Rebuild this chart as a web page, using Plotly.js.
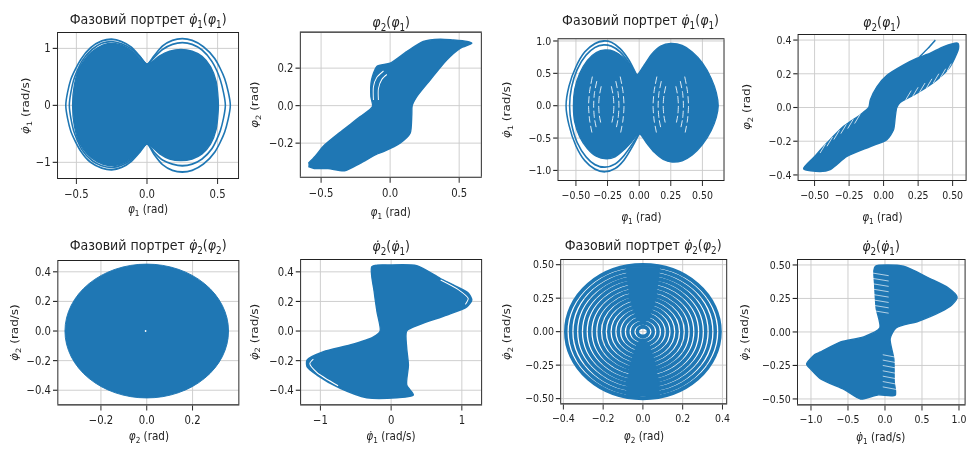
<!DOCTYPE html>
<html>
<head>
<meta charset="utf-8">
<script src="https://cdn.plot.ly/plotly-3.0.1.min.js"></script>
<style>
  html, body { margin: 0; padding: 0; background: #fff; overflow: hidden; }
  #wrap { width: 968px; height: 453px; overflow: hidden; filter: blur(0.35px); }
  #fig { width: 1113px; height: 453px; transform: scaleX(0.87); transform-origin: 0 0; }
</style>
</head>
<body>
<div id="wrap"><div id="fig"></div></div>
<script>
// ---------- phase-portrait outlines (rad, rad/s) ----------
// panel 1: dphi1(phi1), first run
const p1FillX = [0.0,-0.04,-0.09,-0.15,-0.22,-0.28,-0.35,-0.42,-0.48,-0.515,-0.527,-0.515,-0.48,-0.42,-0.35,-0.28,-0.22,-0.15,-0.09,-0.04,0.0,
                 0.04,0.09,0.16,0.24,0.32,0.39,0.45,0.49,0.506,0.49,0.45,0.39,0.32,0.24,0.16,0.09,0.04,0.0];
const p1FillY = [0.72,0.80,0.92,1.02,1.08,1.08,1.01,0.87,0.65,0.35,0.0,-0.35,-0.65,-0.86,-0.99,-1.05,-1.05,-0.99,-0.89,-0.77,-0.67,
                 -0.74,-0.85,-0.94,-0.97,-0.94,-0.85,-0.68,-0.42,0.0,0.42,0.68,0.86,0.95,0.98,0.95,0.87,0.77,0.72];
const p1OrbitAX = [0.0,-0.05,-0.11,-0.18,-0.25,-0.32,-0.40,-0.47,-0.54,-0.575,-0.54,-0.47,-0.40,-0.32,-0.25,-0.18,-0.11,-0.05,0.0,
                   0.05,0.11,0.18,0.25,0.32,0.40,0.48,0.55,0.59,0.55,0.48,0.40,0.32,0.25,0.18,0.11,0.05,0.0];
const p1OrbitAY = [0.72,0.86,1.02,1.12,1.16,1.13,1.01,0.80,0.45,0.0,-0.45,-0.80,-1.0,-1.10,-1.13,-1.09,-0.98,-0.82,-0.67,
                   -0.86,-1.04,-1.14,-1.17,-1.14,-1.03,-0.82,-0.47,0.0,0.47,0.82,1.03,1.14,1.17,1.14,1.04,0.87,0.72];
const p1OrbitBX = [0.0,-0.05,-0.11,-0.18,-0.25,-0.32,-0.39,-0.46,-0.52,-0.55,-0.52,-0.46,-0.39,-0.32,-0.25,-0.18,-0.11,-0.05,0.0,
                   0.05,0.11,0.18,0.25,0.32,0.39,0.46,0.52,0.555,0.52,0.46,0.39,0.32,0.25,0.18,0.11,0.05,0.0];
const p1OrbitBY = [0.72,0.85,0.99,1.08,1.12,1.09,0.98,0.78,0.44,0.0,-0.44,-0.78,-0.97,-1.06,-1.09,-1.05,-0.95,-0.80,-0.67,
                   -0.82,-0.96,-1.03,-1.06,-1.03,-0.94,-0.76,-0.44,0.0,0.44,0.77,0.97,1.07,1.10,1.07,0.98,0.84,0.72];

// panel 2: phi2(phi1), first run
const p2BandX = [-0.592,-0.55,-0.45,-0.33,-0.217,-0.10,-0.048,0.072,0.145,0.157,0.16,0.193,0.29,0.41,0.507,0.592,
                 0.556,0.45,0.362,0.24,0.12,0.0,-0.097,-0.135,-0.14,-0.128,-0.217,-0.355,-0.483,-0.543,-0.592];
const p2BandY = [-0.325,-0.335,-0.335,-0.347,-0.307,-0.26,-0.245,-0.20,-0.147,-0.05,0.0,0.048,0.137,0.244,0.306,0.333,
                 0.342,0.35,0.354,0.342,0.288,0.226,0.208,0.137,0.05,-0.005,-0.059,-0.138,-0.216,-0.27,-0.307];
const p2GapX = [-0.121,-0.121,-0.097,-0.048,null,-0.085,-0.085,-0.06,-0.024];
const p2GapY = [0.03,0.10,0.15,0.185,null,0.03,0.09,0.14,0.166];

// panel 3: dphi1(phi1), second run
const p3FillX = [-0.02,-0.07,-0.13,-0.20,-0.27,-0.34,-0.41,-0.47,-0.51,-0.52,-0.51,-0.47,-0.41,-0.34,-0.26,-0.19,-0.12,-0.06,0.0,
                 0.06,0.12,0.19,0.26,0.34,0.42,0.50,0.57,0.61,0.625,0.61,0.57,0.50,0.42,0.34,0.25,0.17,0.10,0.04,-0.02];
const p3FillY = [0.47,0.62,0.75,0.84,0.86,0.82,0.70,0.50,0.25,0.0,-0.25,-0.48,-0.66,-0.78,-0.82,-0.79,-0.68,-0.56,-0.43,
                 -0.58,-0.72,-0.83,-0.87,-0.85,-0.76,-0.60,-0.38,-0.18,0.0,0.20,0.42,0.66,0.83,0.93,0.96,0.92,0.80,0.63,0.47];
const p3OrbitAX = [-0.02,-0.08,-0.15,-0.22,-0.28,-0.35,-0.43,-0.50,-0.555,-0.578,-0.555,-0.50,-0.43,-0.35,-0.27,-0.19,-0.12,-0.05,0.0];
const p3OrbitAY = [0.47,0.70,0.88,0.98,1.0,0.96,0.83,0.60,0.30,0.0,-0.30,-0.62,-0.85,-0.98,-1.02,-0.97,-0.84,-0.62,-0.43];
const p3OrbitBX = [-0.02,-0.08,-0.15,-0.22,-0.28,-0.35,-0.42,-0.49,-0.535,-0.55,-0.535,-0.49,-0.42,-0.35,-0.27,-0.19,-0.12,-0.05,0.0];
const p3OrbitBY = [0.47,0.66,0.83,0.92,0.94,0.90,0.78,0.56,0.28,0.0,-0.28,-0.57,-0.79,-0.91,-0.95,-0.90,-0.77,-0.58,-0.43];
const p3GapX = [-0.37,-0.392,-0.40,-0.392,-0.37,null,-0.335,-0.354,-0.36,-0.354,-0.335,null,-0.30,-0.315,-0.32,-0.315,-0.30,null,
                -0.15,-0.128,-0.12,-0.128,-0.15,null,-0.185,-0.166,-0.16,-0.166,-0.185,null,-0.22,-0.205,-0.20,-0.205,-0.22,null,
                0.14,0.118,0.11,0.118,0.14,null,0.175,0.156,0.15,0.156,0.175,null,0.21,0.195,0.19,0.195,0.21,null,
                0.36,0.382,0.39,0.382,0.36,null,0.325,0.344,0.35,0.344,0.325,null,0.29,0.305,0.31,0.305,0.29];
const p3GapY = [0.45,0.22,0,-0.22,-0.45,null,0.38,0.19,0,-0.19,-0.38,null,0.30,0.15,0,-0.15,-0.30,null,
                0.45,0.22,0,-0.22,-0.45,null,0.38,0.19,0,-0.19,-0.38,null,0.30,0.15,0,-0.15,-0.30,null,
                0.45,0.22,0,-0.22,-0.45,null,0.38,0.19,0,-0.19,-0.38,null,0.30,0.15,0,-0.15,-0.30,null,
                0.45,0.22,0,-0.22,-0.45,null,0.38,0.19,0,-0.19,-0.38,null,0.30,0.15,0,-0.15,-0.30];

// panel 4: phi2(phi1), second run
const p4BandX = [-0.58,-0.46,-0.386,-0.266,-0.096,0.024,0.072,0.085,0.096,0.12,0.242,0.386,0.483,0.543,0.538,
                 0.435,0.338,0.242,0.145,0.024,-0.048,-0.096,-0.108,-0.169,-0.29,-0.41,-0.507,-0.58];
const p4BandY = [-0.363,-0.379,-0.368,-0.29,-0.231,-0.19,-0.132,-0.053,0.0,0.03,0.085,0.164,0.243,0.35,0.381,
                 0.361,0.322,0.292,0.252,0.19,0.124,0.046,0.0,-0.043,-0.112,-0.21,-0.297,-0.363];
const p4SpikeX = [0.26,0.32,0.375];
const p4SpikeY = [0.30,0.35,0.40];
// feathered inner edges of the two branches
const p4CombX = [0.16,0.20,null,0.21,0.25,null,0.26,0.30,null,0.31,0.35,null,0.36,0.40,null,0.41,0.45,null,0.46,0.49,null,
                 -0.17,-0.21,null,-0.22,-0.26,null,-0.27,-0.31,null,-0.32,-0.36,null,-0.37,-0.41,null,-0.42,-0.46];
const p4CombY = [0.045,0.10,null,0.065,0.12,null,0.09,0.145,null,0.115,0.17,null,0.145,0.20,null,0.175,0.23,null,0.215,0.26,null,
                 -0.04,-0.095,null,-0.07,-0.125,null,-0.10,-0.155,null,-0.135,-0.19,null,-0.175,-0.23,null,-0.215,-0.27];

// panel 5: dphi2(phi2), first run (envelope of the filled orbit)
const p5PhiAmp = [0.357];
const p5RateAmp = [0.452];

// panel 6: dphi2(dphi1), first run
const p6BowX = [-0.273,-0.014,0.363,0.693,0.929,1.094,1.141,1.07,0.788,0.41,0.22,0.221,0.245,0.221,0.315,0.08,
                -0.344,-0.72,-1.05,-1.19,-1.19,-0.957,-0.58,-0.25,-0.155,-0.2,-0.24,-0.273];
const p6BowY = [0.435,0.446,0.441,0.356,0.30,0.255,0.209,0.164,0.108,0.045,0.0,-0.117,-0.23,-0.365,-0.432,-0.45,
                -0.45,-0.387,-0.297,-0.241,-0.196,-0.14,-0.095,-0.04,0.0,0.13,0.266,0.435];
const p6GapX = [0.70,0.95,1.09,1.05,null,-0.75,-1.05,-1.15,-1.10];
const p6GapY = [0.345,0.28,0.22,0.18,null,-0.37,-0.28,-0.22,-0.19];

// panel 7: dphi2(phi2), second run - successive turns of the spiral
const p7PhiAmp  = [0.388,0.364,0.340,0.316,0.292,0.268,0.244,0.220,0.196,0.172,0.148,0.124,0.100,0.076,0.052,0.028];
const p7RateAmp = [0.497,0.466,0.435,0.404,0.374,0.343,0.312,0.282,0.251,0.220,0.189,0.159,0.128,0.097,0.067,0.036];
// dense column where the turns crowd together near phi2 = 0
const p7ColumnX = [-0.085,0.085,0.065,0.032,0.0,-0.032,-0.065,-0.085,null,-0.085,0.085,0.065,0.032,0.0,-0.032,-0.065,-0.085];
const p7ColumnY = [0.48,0.48,0.25,0.10,0.06,0.10,0.25,0.48,null,-0.48,-0.48,-0.25,-0.10,-0.06,-0.10,-0.25,-0.48];

// panel 8: dphi2(dphi1), second run
const p8BowX = [-0.15,-0.13,0.25,0.6,0.85,0.975,0.9,0.75,0.45,0.15,0.07,0.12,0.125,0.14,-0.1,-0.33,-0.55,-0.87,-1.0,-1.06,
                -0.95,-0.87,-0.6,-0.29,-0.07,-0.12,-0.14,-0.15];
const p8BowY = [0.46,0.49,0.49,0.40,0.33,0.26,0.20,0.15,0.08,0.03,-0.05,-0.2,-0.37,-0.47,-0.47,-0.50,-0.43,-0.35,-0.28,-0.24,
                -0.17,-0.15,-0.075,-0.037,0.03,0.18,0.35,0.46];
// combed edges of the two lobes
const p8CombX = [-0.17,0.05,null,-0.17,0.05,null,-0.17,0.05,null,-0.17,0.05,null,-0.17,0.05,null,-0.17,0.05,null,-0.17,0.05,null,-0.17,0.05,null,
                 -0.03,0.16,null,-0.03,0.16,null,-0.03,0.16,null,-0.03,0.16,null,-0.03,0.16,null,-0.03,0.16,null,-0.03,0.16];
const p8CombY = [0.44,0.42,null,0.40,0.38,null,0.36,0.34,null,0.32,0.30,null,0.28,0.26,null,0.24,0.22,null,0.20,0.18,null,0.16,0.14,null,
                 -0.17,-0.19,null,-0.21,-0.23,null,-0.25,-0.27,null,-0.29,-0.31,null,-0.33,-0.35,null,-0.37,-0.39,null,-0.41,-0.43];

// ---------- tick values ----------
const ticksHalf = [-0.5, 0, 0.5];
const ticksOne = [-1, 0, 1];
const ticksPoint2 = [-0.2, 0, 0.2];
const ticksQuarter = [-0.5, -0.25, 0, 0.25, 0.5];
const ticksFourTenths = [-0.4, -0.2, 0, 0.2, 0.4];
const ticksWhole = [-1, -0.5, 0, 0.5, 1];

// ---------- text ----------
const TITLE_SIZE = 14.5, LABEL_SIZE = 12;
// subscript drawn as a lowered, smaller run of real text
function sub(d, size) {
  return '<span style="font-size:' + (0.7 * size).toFixed(1) + 'px;baseline-shift:-' + (0.28 * size).toFixed(1) + 'px">' + d + '</span>';
}
function sym(dot, k, size) { return '<i>' + (dot ? 'φ̇' : 'φ') + '</i>' + sub(k, size); }
function portrait(k, size) { return 'Фазовий портрет ' + sym(true, k, size) + '(' + sym(false, k, size) + ')'; }

const titles = [
  portrait('1', TITLE_SIZE), sym(false, '2', TITLE_SIZE) + '(' + sym(false, '1', TITLE_SIZE) + ')',
  portrait('1', TITLE_SIZE), sym(false, '2', TITLE_SIZE) + '(' + sym(false, '1', TITLE_SIZE) + ')',
  portrait('2', TITLE_SIZE), sym(true, '2', TITLE_SIZE) + '(' + sym(true, '1', TITLE_SIZE) + ')',
  portrait('2', TITLE_SIZE), sym(true, '2', TITLE_SIZE) + '(' + sym(true, '1', TITLE_SIZE) + ')'
];
const L = LABEL_SIZE;
const xLabels = [sym(false, '1', L) + ' (rad)', sym(false, '1', L) + ' (rad)', sym(false, '1', L) + ' (rad)', sym(false, '1', L) + ' (rad)',
                 sym(false, '2', L) + ' (rad)', sym(true, '1', L) + ' (rad/s)', sym(false, '2', L) + ' (rad)', sym(true, '1', L) + ' (rad/s)'];
const yLabels = [sym(true, '1', L) + ' (rad/s)', sym(false, '2', L) + ' (rad)', sym(true, '1', L) + ' (rad/s)', sym(false, '2', L) + ' (rad)',
                 sym(true, '2', L) + ' (rad/s)', sym(true, '2', L) + ' (rad/s)', sym(true, '2', L) + ' (rad/s)', sym(true, '2', L) + ' (rad/s)'];

// ---------- layout geometry (pixels of the 968x453 page) ----------
const W = 968, H = 453;
const boxes = [
  [58, 238, 33, 178], [300.7, 480.7, 32.7, 176.7], [558.3, 723.3, 39.3, 180], [798.3, 965.3, 35, 180],
  [58.3, 238.3, 261, 404.3], [301, 481, 260, 404.3], [561, 726, 260, 403.3], [797.7, 964.3, 260, 404.3]
];
const ranges = [
  [[-0.63, 0.645], [-1.275, 1.27]], [[-0.647, 0.657], [-0.379, 0.389]],
  [[-0.638, 0.667], [-1.148, 1.026]], [[-0.616, 0.594], [-0.43, 0.43]],
  [[-0.386, 0.40], [-0.495, 0.473]], [[-1.273, 1.273], [-0.495, 0.48]],
  [[-0.411, 0.419], [-0.535, 0.535]], [[-1.176, 1.076], [-0.54, 0.537]]
];
const ticks = [
  [ticksHalf, '.1f', ticksOne, 'd'], [ticksHalf, '.1f', ticksPoint2, '.1f'],
  [ticksQuarter, '.2f', ticksWhole, '.1f'], [ticksQuarter, '.2f', ticksFourTenths, '.1f'],
  [ticksPoint2, '.1f', ticksFourTenths, '.1f'], [ticksOne, 'd', ticksFourTenths, '.1f'],
  [ticksFourTenths, '.1f', ticksQuarter, '.2f'], [ticksWhole, '.1f', ticksQuarter, '.2f']
];
// the right-hand pair of columns uses slightly smaller tick labels
const tickSize = [11.6, 11.6, 10.8, 10.8, 11.6, 11.6, 10.8, 10.8];
const titleY = [20, 23, 21.7, 23, 246.7, 247.7, 246.7, 247.7];
const xLabelY = [210, 213.3, 218.3, 218.3, 436.7, 436.7, 436.7, 438.3];
const yLabelX = [26.7, 255, 506.7, 746.7, 15, 255, 506.7, 745];

const BLUE = '#1f77b4';
const INK = '#222222';
const FONT = 'DejaVu Sans, sans-serif';

function axId(n) { return n === 1 ? '' : String(n); }

function band(n, xs, ys, straight) {
  return { type: 'scatter', mode: 'lines', x: xs, y: ys, xaxis: 'x' + axId(n), yaxis: 'y' + axId(n),
    fill: 'toself', fillcolor: BLUE,
    line: straight ? { color: BLUE, width: 1 } : { color: BLUE, width: 1.5, shape: 'spline', smoothing: 0.7 },
    hoverinfo: 'skip', showlegend: false };
}
function curve(n, xs, ys, color, width, straight) {
  return { type: 'scatter', mode: 'lines', x: xs, y: ys, xaxis: 'x' + axId(n), yaxis: 'y' + axId(n),
    line: straight ? { color: color, width: width } : { color: color, width: width, shape: 'spline', smoothing: 0.7 },
    connectgaps: false, hoverinfo: 'skip', showlegend: false };
}

const p3Arcs = curve(3, p3GapX, p3GapY, '#ffffff', 0.9);
p3Arcs.line.dash = '7px,3px';

const data = [
  band(1, p1FillX, p1FillY),
  curve(1, p1OrbitBX, p1OrbitBY, BLUE, 1.8),
  curve(1, p1OrbitAX, p1OrbitAY, BLUE, 1.8),
  band(2, p2BandX, p2BandY),
  curve(2, p2GapX, p2GapY, '#ffffff', 1.1),
  band(3, p3FillX, p3FillY),
  p3Arcs,
  curve(3, p3OrbitBX, p3OrbitBY, BLUE, 1.8),
  curve(3, p3OrbitAX, p3OrbitAY, BLUE, 1.8),
  band(4, p4BandX, p4BandY),
  curve(4, p4CombX, p4CombY, '#ffffff', 0.8, true),
  curve(4, p4SpikeX, p4SpikeY, BLUE, 1.6),
  { type: 'scatter', mode: 'markers', x: [-0.005], y: [0], xaxis: 'x5', yaxis: 'y5',
    marker: { color: '#ffffff', size: 2 }, hoverinfo: 'skip', showlegend: false },
  band(6, p6BowX, p6BowY),
  curve(6, p6GapX, p6GapY, '#ffffff', 1.1),
  band(7, p7ColumnX, p7ColumnY, true),
  band(8, p8BowX, p8BowY),
  curve(8, p8CombX, p8CombY, '#ffffff', 0.7, true)
];

const shapes = [];
// panel 5: filled orbit envelope
shapes.push({ type: 'circle', xref: 'x5', yref: 'y5', layer: 'between',
  x0: -p5PhiAmp[0], x1: p5PhiAmp[0], y0: -p5RateAmp[0], y1: p5RateAmp[0],
  fillcolor: BLUE, line: { color: BLUE, width: 1 } });
// panel 7: spiral turns
p7PhiAmp.forEach(function (a, i) {
  shapes.push({ type: 'circle', xref: 'x7', yref: 'y7', layer: 'between',
    x0: -a, x1: a, y0: -p7RateAmp[i], y1: p7RateAmp[i],
    line: { color: BLUE, width: 4 } });
});

const layout = {
  width: 1113, height: H,
  margin: { l: 0, r: 0, t: 0, b: 0 },
  paper_bgcolor: '#ffffff', plot_bgcolor: '#ffffff',
  showlegend: false,
  font: { family: FONT, color: INK, size: LABEL_SIZE },
  shapes: shapes,
  annotations: []
};

boxes.forEach(function (b, i) {
  const n = i + 1;
  const common = {
    showgrid: true, gridcolor: '#cccccc', gridwidth: 1, zeroline: false,
    showline: true, linecolor: INK, linewidth: 1.1, mirror: true,
    ticks: 'outside', ticklen: 5, tickwidth: 1.1, tickcolor: INK, tickangle: 0,
    tickfont: { family: FONT, size: tickSize[i], color: INK }, fixedrange: true
  };
  layout['xaxis' + axId(n)] = Object.assign({}, common, {
    domain: [b[0] / W, b[1] / W], range: ranges[i][0], anchor: 'y' + axId(n),
    tickmode: 'array', tickvals: ticks[i][0], tickformat: ticks[i][1]
  });
  layout['yaxis' + axId(n)] = Object.assign({}, common, {
    domain: [1 - b[3] / H, 1 - b[2] / H], range: ranges[i][1], anchor: 'x' + axId(n),
    tickmode: 'array', tickvals: ticks[i][2], tickformat: ticks[i][3]
  });
  const cx = (b[0] + b[1]) / 2 / W;
  layout.annotations.push({ text: titles[i], xref: 'paper', yref: 'paper', x: cx, y: 1 - titleY[i] / H,
    xanchor: 'center', yanchor: 'middle', showarrow: false, font: { family: FONT, size: TITLE_SIZE, color: INK } });
  layout.annotations.push({ text: xLabels[i], xref: 'paper', yref: 'paper', x: cx, y: 1 - xLabelY[i] / H,
    xanchor: 'center', yanchor: 'middle', showarrow: false, font: { family: FONT, size: LABEL_SIZE, color: INK } });
  layout.annotations.push({ text: yLabels[i], xref: 'paper', yref: 'paper', x: yLabelX[i] / W,
    y: 1 - (b[2] + b[3]) / 2 / H, textangle: -90, xanchor: 'center', yanchor: 'middle', showarrow: false,
    font: { family: FONT, size: LABEL_SIZE, color: INK } });
});

Plotly.newPlot('fig', data, layout, { staticPlot: true, displayModeBar: false });
</script>
</body>
</html>
